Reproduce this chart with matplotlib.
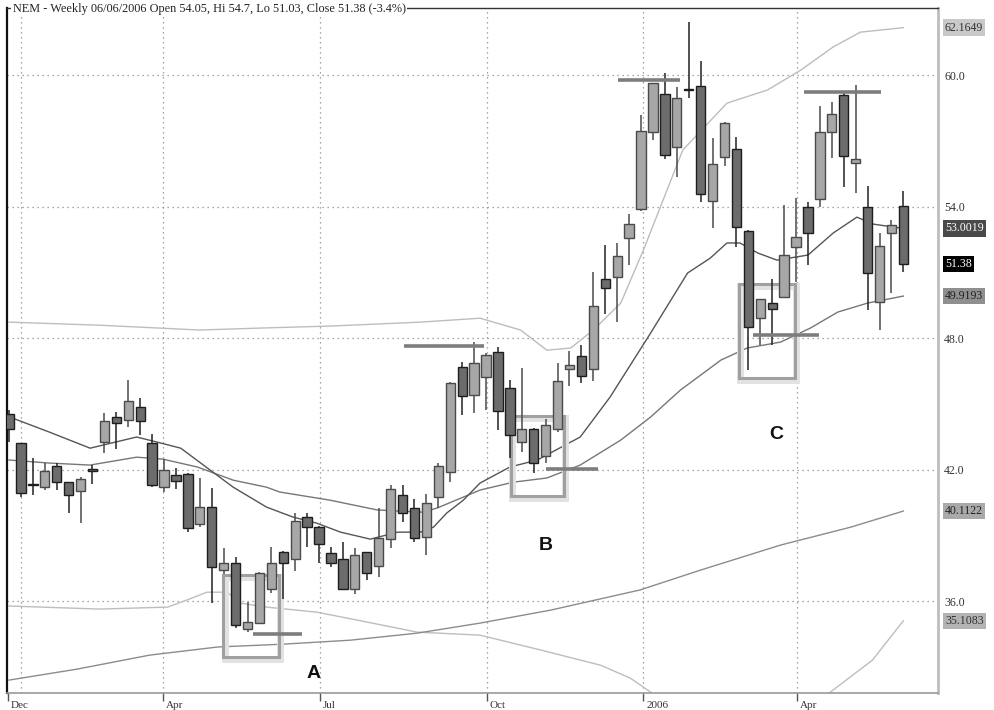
import numpy as np
import matplotlib
matplotlib.use("Agg")
import matplotlib.pyplot as plt
from matplotlib.patches import Rectangle
from matplotlib.transforms import ScaledTranslation, blended_transform_factory

# Weekly candles (NEM); index = week number
opens = [44.53, 43.21, 41.35, 41.20, 42.16, 41.43, 41.02, 42.03, 43.26, 44.40,
         44.26, 44.85, 43.21, 41.20, 41.75, 41.80, 39.52, 40.29, 37.42, 37.74,
         34.73, 35.00, 36.55, 38.24, 37.92, 39.84, 39.38, 38.19, 37.92, 36.55,
         38.24, 37.60, 38.83, 40.84, 40.25, 38.92, 40.75, 41.89, 46.68, 45.40,
         46.22, 47.36, 45.72, 43.26, 43.85, 42.62, 43.85, 46.59, 47.18, 46.59,
         50.69, 50.78, 52.56, 53.89, 57.40, 59.13, 56.72, 59.35, 59.50, 54.25,
         56.26, 56.62, 52.88, 48.91, 49.60, 49.87, 52.15, 53.98, 54.34, 57.40,
         59.09, 55.99, 53.98, 49.64, 52.79, 54.05]
highs = [44.72, 43.21, 42.53, 42.30, 42.30, 41.43, 41.66, 42.21, 44.58, 44.63,
         46.09, 45.26, 43.62, 42.48, 42.07, 41.84, 41.61, 41.16, 38.42, 38.01,
         35.96, 37.33, 38.47, 38.28, 40.02, 40.02, 39.42, 38.47, 38.69, 38.42,
         38.24, 40.25, 41.30, 41.30, 40.66, 40.89, 42.30, 45.98, 46.91, 47.82,
         47.32, 47.59, 46.09, 46.63, 43.90, 44.31, 46.86, 47.41, 47.68, 51.01,
         52.24, 52.34, 53.66, 58.18, 59.64, 60.09, 59.45, 62.42, 60.64, 57.13,
         57.86, 57.17, 52.93, 49.78, 50.69, 54.07, 54.39, 54.21, 58.59, 58.77,
         59.18, 59.54, 54.94, 52.79, 53.38, 54.70]
lows = [43.26, 40.75, 40.84, 41.07, 41.07, 40.02, 39.56, 41.34, 42.76, 42.94,
        43.94, 43.58, 41.20, 40.98, 41.11, 39.15, 39.38, 35.91, 37.24, 34.77,
        34.59, 34.95, 36.37, 36.09, 37.37, 38.47, 37.74, 37.56, 36.50, 36.32,
        36.96, 37.10, 38.42, 39.61, 38.69, 38.10, 40.25, 41.43, 44.49, 44.58,
        44.72, 43.80, 42.53, 42.80, 41.84, 42.30, 43.71, 45.81, 45.95, 46.04,
        49.10, 48.73, 51.33, 53.80, 57.03, 56.17, 55.35, 58.95, 54.21, 53.02,
        55.85, 52.15, 46.54, 47.68, 47.68, 49.83, 50.56, 51.33, 53.98, 56.21,
        54.89, 54.62, 49.28, 48.37, 50.05, 51.03]
closes = [43.85, 40.93, 41.28, 41.93, 41.43, 40.84, 41.57, 41.93, 44.22, 44.12,
          45.13, 44.22, 41.30, 41.98, 41.48, 39.33, 40.29, 37.56, 37.74, 34.91,
          35.05, 37.28, 37.74, 37.74, 39.65, 39.38, 38.60, 37.74, 36.55, 38.10,
          37.28, 38.88, 41.11, 40.02, 38.88, 40.47, 42.16, 45.95, 45.36, 46.86,
          47.23, 44.67, 43.58, 43.85, 42.30, 44.03, 46.04, 46.77, 46.27, 49.46,
          50.28, 51.74, 53.20, 57.45, 59.64, 56.35, 58.95, 59.30, 54.57, 55.94,
          57.81, 53.07, 48.50, 49.78, 49.33, 51.79, 52.61, 52.79, 57.40, 58.22,
          56.30, 56.17, 50.97, 52.20, 53.16, 51.38]

# Overlay lines, sampled from the chart (week index, price)
ma_fast_x = [0.3, 3.4, 6.8, 10.7, 12.4, 14.4, 16.3, 18.8, 21.6, 23.8, 25.8, 27.8,
             30.3, 32.6, 34.5, 35.6, 36.7, 38.1, 39.5, 42.0, 44.3, 47.9, 50.4,
             53.8, 56.9, 58.8, 60.2, 61.3, 62.8, 64.4, 67.0, 69.1, 71.1, 72.5, 75]
ma_fast_y = [44.35, 43.71, 42.98, 43.49, 43.26, 42.98, 42.21, 41.20, 40.29, 39.84,
             39.56, 39.15, 38.83, 39.15, 39.15, 39.38, 40.02, 40.61, 41.39, 42.12,
             42.44, 43.49, 45.31, 48.23, 50.97, 51.65, 52.34, 52.34, 51.88, 51.56,
             51.79, 52.79, 53.52, 53.20, 53.0019]
ma_mid_x = [0, 3.4, 6.8, 10.7, 12.9, 15.8, 18.8, 21.6, 22.7, 26.9, 30.9, 34.7,
            35.9, 38.1, 39.5, 42.3, 45.1, 47.9, 51.3, 53.8, 56.3, 59.7, 61.9,
            64.7, 67.2, 69.5, 72.0, 75]
ma_mid_y = [42.44, 42.30, 42.21, 42.57, 42.48, 42.12, 41.52, 41.20, 40.98, 40.61,
            40.16, 40.06, 40.25, 40.75, 41.07, 41.43, 41.62, 42.21, 43.35, 44.40,
            45.63, 47.00, 47.55, 47.82, 48.46, 49.19, 49.60, 49.9193]
bb_up_x = [0, 7.6, 16.0, 21.1, 26.9, 34.5, 39.5, 42.9, 45.1, 47.1, 49.0, 51.3,
           53.2, 56.5, 60.2, 63.6, 66.4, 69.1, 71.4, 75]
bb_up_y = [48.73, 48.59, 48.37, 48.46, 48.55, 48.73, 48.91, 48.37, 47.45, 47.55,
           48.37, 49.60, 52.02, 56.58, 58.72, 59.32, 60.23, 61.28, 61.96, 62.1649]
bb_low_x = [0, 7.6, 13.3, 14.9, 16.6, 18.3, 19.4, 21.6, 25.8, 30.0, 34.2, 39.5,
            44.6, 49.6, 52.1, 53.8, 55.0, np.nan, 68.0, 72.4, 75]
bb_low_y = [35.78, 35.64, 35.73, 36.05, 36.41, 36.41, 35.91, 35.73, 35.50, 35.05,
            34.59, 34.45, 33.77, 33.08, 32.49, 31.85, 31.26, np.nan, 31.49, 33.31,
            35.1083]
ma_slow_x = [0, 5.7, 11.8, 17.5, 23.0, 28.6, 34.2, 39.5, 45.4, 52.9, 58.0, 64.7,
             70.6, 75]
ma_slow_y = [32.40, 32.90, 33.54, 33.91, 34.04, 34.22, 34.54, 35.00, 35.59, 36.51,
             37.42, 38.56, 39.38, 40.1122]

# Annotations: support/resistance segments (x0, x1, price) and boxes
level_x0 = [20.5, 33.1, 45.0, 51.1, 66.7, 62.4]
level_x1 = [24.6, 39.8, 49.4, 56.3, 73.1, 67.9]
level_y = [34.50, 47.64, 42.03, 59.77, 59.22, 48.14]
box_x0 = [17.95, 42.1, 61.2]
box_x1 = [22.6, 46.5, 65.9]
box_lo = [33.45, 40.79, 46.18]
box_hi = [37.19, 44.44, 50.47]
box_names = ["A", "B", "C"]
name_x = [25.5, 45.0, 64.3]
name_y = [32.7, 38.56, 43.62]

price_ticks = [36.0, 42.0, 48.0, 54.0, 60.0]
month_pos = [-0.1, 12.9, 26.1, 40.1, 53.2, 66.1]
month_grid = [1.0, 12.9, 26.1, 40.1, 53.2, 66.1]
month_labels = ["Dec", "Apr", "Jul", "Oct", "2006", "Apr"]

# right-hand value tags: value, background, text colour
tag_vals = [62.1649, 53.0019, 51.38, 49.9193, 40.1122, 35.1083]
tag_bg = ["#c9c9c9", "#4a4a4a", "#000000", "#8f8f8f", "#a9a9a9", "#b3b3b3"]
tag_fg = ["#333333", "#ffffff", "#ffffff", "#222222", "#222222", "#333333"]

serif = "Liberation Serif"

fig = plt.figure(figsize=(9.94, 7.10), dpi=100)
ax = fig.add_axes([0.00704, 0.0239, 0.9366, 0.9648])
ax.set_xlim(-0.17, 77.9)
ax.set_ylim(31.81, 63.06)

# dotted grid
for p in price_ticks:
    ax.axhline(p, color="#8a8a8a", lw=0.9, ls=(0, (1, 3)), zorder=0)
for m in month_grid:
    ax.axvline(m, color="#8a8a8a", lw=0.9, ls=(0, (1, 3)), zorder=0)

# overlay lines
ax.plot(bb_up_x, bb_up_y, color="#bdbdbd", lw=1.0, zorder=1)
ax.plot(bb_low_x, bb_low_y, color="#bdbdbd", lw=1.0, zorder=1)
ax.plot(ma_slow_x, ma_slow_y, color="#8c8c8c", lw=1.0, zorder=1)
ax.plot(ma_mid_x, ma_mid_y, color="#777777", lw=1.0, zorder=1)
ax.plot(ma_fast_x, ma_fast_y, color="#555555", lw=1.0, zorder=1)

# boxes with a soft shadow
for x0, x1, lo, hi in zip(box_x0, box_x1, box_lo, box_hi):
    ax.add_patch(Rectangle((x0 + 0.12, lo - 0.08), x1 - x0, hi - lo, fill=False,
                           ec="#e2e2e2", lw=5, zorder=2))
    ax.add_patch(Rectangle((x0, lo), x1 - x0, hi - lo, fill=False,
                           ec="#a0a0a0", lw=2.2, zorder=2))

# candles
x = np.arange(len(opens))
o = np.array(opens)
c = np.array(closes)
up = c >= o
ax.vlines(x[up], np.array(lows)[up], np.array(highs)[up], color="#4a4a4a", lw=1.1, zorder=3)
ax.vlines(x[~up], np.array(lows)[~up], np.array(highs)[~up], color="#222222", lw=1.1, zorder=3)
bottom = np.minimum(o, c)
height = np.maximum(np.abs(c - o), 0.04)
ax.bar(x[up], height[up], bottom=bottom[up], width=0.78, color="#a7a7a7",
       edgecolor="#4a4a4a", lw=1.0, zorder=4)
ax.bar(x[~up], height[~up], bottom=bottom[~up], width=0.78, color="#6c6c6c",
       edgecolor="#1e1e1e", lw=1.0, zorder=4)

# support / resistance marks
ax.hlines(level_y, level_x0, level_x1, color="#7d7d7d", lw=2.6, zorder=5)

for name, nx, ny in zip(box_names, name_x, name_y):
    ax.text(nx, ny, name, fontsize=14, fontweight="bold", family="Liberation Sans",
            ha="center", va="center", color="#111111", zorder=6)

# axes styling
ax.yaxis.tick_right()
ax.set_yticks(price_ticks, [f"{p:.1f}" for p in price_ticks])
ax.tick_params(axis="y", length=0, pad=4.5, labelsize=8.6, labelcolor="#333333")
ax.set_xticks(month_pos, month_labels)
ax.tick_params(axis="x", length=6, width=1, color="#555555", pad=0,
               labelsize=8, labelcolor="#333333", direction="out")
shift = ScaledTranslation(2 / 72, 0, fig.dpi_scale_trans)
for lbl in ax.get_xticklabels() + ax.get_yticklabels():
    lbl.set_family(serif)
for lbl in ax.get_xticklabels():
    lbl.set_horizontalalignment("left")
    lbl.set_transform(lbl.get_transform() + shift)

ax.spines["left"].set_color("#111111")
ax.spines["left"].set_linewidth(1.6)
ax.spines["top"].set_color("#333333")
ax.spines["top"].set_linewidth(1.0)
ax.spines["right"].set_color("#bdbdbd")
ax.spines["right"].set_linewidth(2.0)
ax.spines["bottom"].set_color("#9a9a9a")
ax.spines["bottom"].set_linewidth(1.2)

# value tags on the right
trans = blended_transform_factory(ax.transAxes, ax.transData)
for v, bg, fg in zip(tag_vals, tag_bg, tag_fg):
    txt = f"{v:.4f}" if v != 51.38 else "51.38"
    ax.text(1.0075, v, txt, transform=trans, fontsize=8.6, family=serif, color=fg,
            va="center", ha="left", clip_on=False, zorder=8,
            bbox=dict(boxstyle="square,pad=0.18", fc=bg, ec="none"))

ax.text(0.006, 0.999, "NEM - Weekly 06/06/2006 Open 54.05, Hi 54.7, Lo 51.03, Close 51.38 (-3.4%)",
        transform=ax.transAxes, fontsize=8.8, family=serif, color="#222222",
        va="center", ha="left", zorder=7,
        bbox=dict(boxstyle="square,pad=0.1", fc="white", ec="none"))

fig.savefig("out.png", dpi=100)
